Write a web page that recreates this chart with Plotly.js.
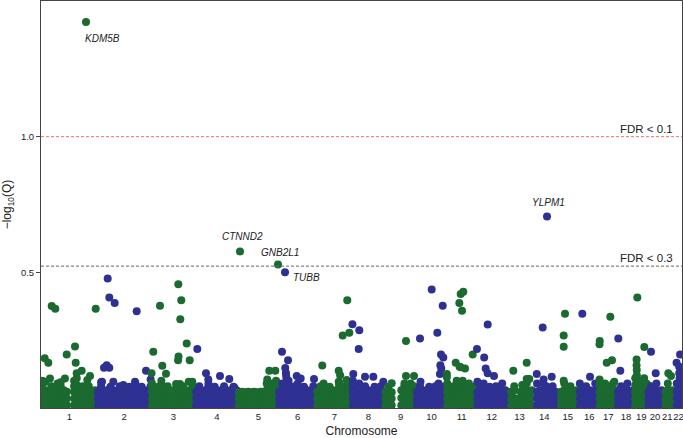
<!DOCTYPE html>
<html><head><meta charset="utf-8">
<script src="https://cdn.plot.ly/plotly-3.0.1.min.js"></script>
<style>html,body{margin:0;padding:0;background:#fff}#chart{width:683px;height:438px}</style>
</head><body><div id="chart"></div>
<script>
// Chromosome labels and lengths (Mb)
const chromosomes = ['1','2','3','4','5','6','7','8','9','10','11','12','13','14','15','16','17','18','19','20','21','22'];
const chromLengths = [249,243,198,191,181,171,159,146,141,136,135,134,115,107,103,90,81,78,59,63,48,51];

// Dense low band of genes: [position Mb, -log10(Q) values...]
const band1 = [[2,.01,.035,.06,.08,.1],[16,.01,.037,.065,.097],[30,.01,.035,.06],[44,.01,.037,.065,.08],[58,.01,.035,.06],[72,.01,.037,.065,.09],[86,.01,.035,.06,.08,.095],[100,.01,.037,.065],[114,.01,.035,.06],[146,.01,.035,.06,.08,.1],[158,.01,.037,.065,.085,.11],[170,.01,.035,.06],[184,.01,.037,.065,.08],[198,.01,.035,.06],[212,.01,.037,.065,.08],[226,.01,.035,.06],[240,.01,.037,.065]];
const band2 = [[4,.01,.035,.06],[18,.01,.037,.065,.08,.095],[32,.01,.035,.06],[46,.01,.037,.065],[60,.01,.035,.06,.078],[74,.01,.037,.065],[88,.01,.035,.06],[102,.01,.037,.065,.08],[116,.01,.035,.06],[130,.01,.037,.065],[144,.01,.035,.06,.078],[158,.01,.037,.065],[172,.01,.035,.06,.08,.09],[186,.01,.037,.065],[200,.01,.035,.06,.078],[214,.01,.037,.065],[228,.01,.035,.06],[240,.01,.037,.065,.08]];
const band3 = [[3,.01,.035,.06,.08,.09],[17,.01,.037,.065],[31,.01,.035,.06,.078],[45,.01,.037,.065,.085,.1],[59,.01,.035,.06],[73,.01,.037,.065,.08],[86,.01,.035,.06],[100,.01,.037,.065],[114,.01,.035,.06,.078],[128,.01,.037,.065],[142,.01,.035,.06,.08],[156,.01,.037,.065],[170,.01,.035,.06],[184,.01,.037,.065,.08],[196,.01,.035,.06]];
const band4 = [[3,.01,.035,.06],[17,.01,.037,.065,.08],[31,.01,.035,.06],[45,.01,.037,.065],[58,.01,.035,.06,.08,.09],[72,.01,.037,.065],[86,.01,.035,.06,.078],[100,.01,.037,.065],[114,.01,.035,.06],[128,.01,.037,.065,.08],[142,.01,.035,.06],[156,.01,.037,.065],[170,.01,.035,.06,.078],[184,.01,.037,.065]];
const band5 = [[3,.01,.035,.058],[17,.01,.035,.06],[31,.01,.035,.058],[45,.01,.035,.06],[58,.01,.035,.058],[72,.01,.035,.06],[86,.01,.035,.058],[100,.01,.035,.06],[114,.01,.035,.06],[128,.01,.037,.065,.09],[142,.01,.035,.06,.078],[156,.01,.037,.065,.09],[170,.01,.035,.06,.08,.1],[179,.01,.037,.065]];
const band6 = [[3,.01,.035,.06],[17,.01,.037,.065,.09],[31,.01,.035,.06,.08],[45,.01,.037,.065,.085,.1],[58,.01,.035,.06],[72,.01,.037,.065,.08],[86,.01,.035,.06,.09],[100,.01,.037,.065],[114,.01,.035,.06,.078],[128,.01,.037,.065],[142,.01,.035,.06],[156,.01,.037,.065,.08],[168,.01,.035,.06]];
const band7 = [[3,.01,.035,.06],[17,.01,.037,.065,.08],[31,.01,.035,.06,.09],[45,.01,.037,.065],[58,.01,.035,.06,.078],[72,.01,.037,.065],[86,.01,.035,.06],[100,.01,.037,.065,.08,.095],[114,.01,.035,.06],[128,.01,.037,.065,.08],[142,.01,.035,.06,.09],[156,.01,.037,.065]];
const band8 = [[3,.01,.035,.06,.08,.1],[17,.01,.037,.065],[31,.01,.035,.06,.09],[45,.01,.037,.065],[58,.01,.035,.06,.08],[72,.01,.037,.065],[86,.01,.035,.06],[100,.01,.037,.065,.078],[114,.01,.035,.06],[128,.01,.037,.065,.08],[142,.01,.035,.06]];
const band9 = [[3,.01,.035,.06],[17,.01,.037,.065,.078],[31,.01,.035,.058],[74,.01,.037,.065],[88,.01,.035,.06,.08,.09],[102,.01,.037,.065],[116,.01,.035,.06,.09],[130,.01,.037,.065,.08],[139,.01,.035,.06]];
const band10 = [[3,.01,.035,.06],[17,.01,.037,.065,.08],[31,.01,.035,.06],[45,.01,.037,.065],[58,.01,.035,.06,.078],[72,.01,.037,.065],[86,.01,.035,.06,.08],[100,.01,.037,.065,.09],[114,.01,.035,.06],[128,.01,.037,.065,.08],[134,.01,.035,.06]];
const band11 = [[3,.01,.035,.06,.08,.09],[17,.01,.037,.065],[31,.01,.035,.06,.08],[45,.01,.037,.065,.085,.1],[58,.01,.035,.06,.08,.095],[72,.01,.037,.065,.085,.1],[86,.01,.035,.06,.08],[100,.01,.037,.065,.09],[114,.01,.035,.06],[128,.01,.037,.065,.08],[133,.01,.035,.06]];
const band12 = [[3,.01,.035,.06],[17,.01,.037,.065,.08],[31,.01,.035,.06,.09],[45,.01,.037,.065],[58,.01,.035,.06,.078],[72,.01,.037,.065],[86,.01,.035,.06,.08],[100,.01,.037,.065],[114,.01,.035,.06,.09],[128,.01,.037,.065],[132,.01,.035,.06]];
const band13 = [[20,.01,.035,.06],[34,.01,.037,.065,.08],[48,.01,.033],[62,.01,.035,.06],[76,.01,.035,.06,.078],[90,.01,.037,.065,.09],[104,.01,.035,.06],[113,.01,.037,.065]];
const band14 = [[21,.01,.035,.06,.09],[35,.01,.037,.065],[49,.01,.035,.06,.09],[63,.01,.037,.065,.08],[77,.01,.035,.06],[91,.01,.037,.065,.08],[105,.01,.035,.06]];
const band15 = [[22,.01,.035,.06],[36,.01,.037,.065,.09],[50,.01,.035,.06],[64,.01,.037,.065,.08],[78,.01,.035,.06],[92,.01,.037,.065],[101,.01,.035,.06]];
const band16 = [[3,.01,.035,.06,.09],[17,.01,.037,.065],[31,.01,.035,.06,.08],[48,.01,.037,.065],[58,.01,.035,.06],[72,.01,.037,.065,.09],[86,.01,.035,.06]];
const band17 = [[2,.01,.035,.06,.085],[14,.01,.037,.065],[26,.01,.035,.06,.09],[38,.01,.037,.065,.08],[50,.01,.035,.06],[62,.01,.037,.065,.09],[74,.01,.035,.06],[80,.01,.037,.065]];
const band18 = [[3,.01,.035,.06],[17,.01,.037,.065,.08],[31,.01,.035,.06],[45,.01,.037,.065,.09],[58,.01,.035,.06],[72,.01,.037,.065],[77,.01,.035,.06]];
const band19 = [[2,.01,.035,.06,.085,.11],[12,.01,.037,.065,.09],[22,.01,.035,.06,.085],[32,.01,.037,.065,.09,.1],[42,.01,.035,.06,.085,.11],[52,.01,.037,.065,.09],[57,.01,.035,.06,.085]];
const band20 = [[2,.01,.035,.06],[14,.01,.037,.065,.08],[26,.01,.035,.06],[38,.01,.037,.065,.09],[50,.01,.035,.06],[61,.01,.037,.065]];
const band21 = [[16,.01,.035,.06],[26,.01,.037,.065,.09],[36,.01,.035,.06],[46,.01,.037,.065]];
const band22 = [[18,.01,.035,.06,.09],[28,.01,.037,.065,.08],[38,.01,.035,.06,.09],[48,.01,.037,.065]];
const bands = [band1,band2,band3,band4,band5,band6,band7,band8,band9,band10,band11,band12,band13,band14,band15,band16,band17,band18,band19,band20,band21,band22];

// Scattered higher genes (chromosome, position Mb, -log10 Q)
const hiChr = [1,1,1,1,1,1,1,1,1,1,1,1,1,1,1,
  2,2,2,2,2,2,2,2,2,2,2,2,2,
  3,3,3,3,3,3,3,3,3,3,3,3,3,3,3,3,
  4,4,4,4,4,4,
  5,5,5,
  6,6,6,6,6,6,6,6,6,6,
  7,7,7,7,7,7,7,7,
  8,8,8,8,8,8,8,
  9,9,9,9,
  10,10,10,10,10,10,10,10,10,10,
  11,11,11,11,11,11,11,11,11,11,11,
  12,12,12,12,12,12,12,
  13,13,13,13,13,
  14,14,14,14,
  15,15,15,15,
  16,16,
  17,17,17,17,17,17,17,17,
  18,18,
  19,19,19,19,19,19,
  20,20,
  21,21,
  22,22,22,22,22,22,22];
const hiPos = [14.3,30.5,45.7,61.8,112.9,150.1,153.2,157.7,180.1,205.2,217.3,242.8,14,38,105,
  47.6,54.8,78.9,177.5,31,54.8,43.1,22,72.7,117.5,169.9,219.2,240,
  1,8.9,38.9,49.2,65.8,120.9,134.3,129.9,158.5,120,122,172,167.5,183.6,111,128,
  8,47,57.3,109.7,151.4,173.8,
  139.6,166.5,130.6,
  15.5,42.4,81.4,99.3,158.9,30,33,36,31,34,
  25,98.5,98.5,137,116.4,146,134.4,105,
  1,31.8,29.1,4.9,57.4,94.6,139.4,
  95,95,131,31,
  16.8,69.2,118.5,94.3,110.9,121.2,108,112,106,19,
  1,1,63,74.8,56.9,69,40.7,63,116.9,82.4,58,
  49.1,1,33.3,40,49,77.3,3,
  29.8,89.8,89.8,101.5,70,
  46.5,20,50.5,86.8,
  39.4,33.6,33.6,33.6,
  14,48.5,
  2,1,49.4,33.3,57,67.3,1,2,
  4.2,13.2,
  11.4,8,8,9,9,42.7,
  13.7,34.8,
  28.2,40.3,
  33,17.3,29,29,31,24,38];
const hiVal = [.183,.167,.376,.366,.197,.227,.167,.128,.137,.103,.118,.366,.097,.109,.109,
  .477,.407,.387,.357,.148,.148,.158,.097,.097,.085,.097,.137,.105,
  .128,.207,.377,.156,.126,.456,.397,.327,.238,.176,.19,.176,.097,.097,.088,.088,
  .217,.128,.105,.118,.107,.076,
  .137,.137,.105,
  .207,.176,.118,.109,.107,.147,.13,.11,.09,.12,
  .157,.137,.097,.397,.267,.277,.103,.121,
  .309,.287,.217,.125,.115,.115,.097,
  .247,.118,.118,.091,
  .256,.437,.377,.277,.197,.186,.158,.146,.125,.097,
  .125,.113,.42,.428,.387,.358,.167,.15,.197,.146,.152,
  .308,.217,.186,.146,.128,.118,.097,
  .137,.167,.107,.107,.085,
  .297,.125,.105,.115,
  .347,.267,.226,.1,
  .347,.115,
  .247,.235,.336,.167,.176,.097,.105,.09,
  .256,.137,
  .407,.179,.158,.14,.121,.225,
  .207,.128,
  .128,.118,
  .197,.167,.152,.128,.11,.09,.1];

// Labelled genes
const geneName = ['KDM5B','CTNND2','GNB2L1','TUBB','YLPM1'];
const geneChr = [1,5,5,6,14];
const genePos = [199.4,8.3,178.6,29,65.8];
const geneVal = [1.423,.577,.529,.5,.706];

// FDR thresholds
const fdrLevels = [0.1, 0.3];
const fdrLabels = ['FDR < 0.1','FDR < 0.3'];

// ---- build ----
const offsets = [];
let acc = 0;
chromLengths.forEach(L => { offsets.push(acc); acc += L; });
const centers = chromLengths.map((L,i) => offsets[i] + L/2);
const GREEN = '#1b6a30', BLUE = '#2f3192';
const colorOf = c => (c % 2 === 1 ? GREEN : BLUE);

const X = [], Y = [], C = [];
for (let c = 1; c <= 22; c++) {
  bands[c-1].forEach(e => { for (let k = 1; k < e.length; k++) { X.push(offsets[c-1] + e[0]); Y.push(e[k]); C.push(colorOf(c)); } });
  hiChr.forEach((hc,i) => { if (hc === c) { X.push(offsets[c-1] + hiPos[i]); Y.push(hiVal[i]); C.push(colorOf(c)); } });
  geneChr.forEach((gc,i) => { if (gc === c) { X.push(offsets[c-1] + genePos[i]); Y.push(geneVal[i]); C.push(colorOf(c)); } });
}

const trace = { type:'scatter', mode:'markers', x:X, y:Y, hoverinfo:'skip',
  marker:{ size:8, color:C, line:{width:0} } };

const FONT = 'Liberation Sans, Arial, Helvetica, sans-serif';
// label placement (pixel offsets)
const labelStyle = [
  {xanchor:'left', yanchor:'middle', xshift:-3, yshift:-17},
  {xanchor:'center', yanchor:'middle', xshift:3, yshift:15},
  {xanchor:'center', yanchor:'middle', xshift:2, yshift:12},
  {xanchor:'left', yanchor:'middle', xshift:6, yshift:-5},
  {xanchor:'center', yanchor:'middle', xshift:1, yshift:14}
];
const annotations = geneName.map((g,i) => Object.assign({
  x: offsets[geneChr[i]-1] + genePos[i], y: geneVal[i], xref:'x', yref:'y',
  text: '<i>' + g + '</i>', showarrow:false,
  font:{family:FONT, size:10, color:'#222'}
}, labelStyle[i]));
fdrLevels.forEach((q,i) => annotations.push({
  x: 0.989, y: -Math.log10(q), xref:'paper', yref:'y', xanchor:'right', yanchor:'bottom',
  yshift: 0, text: fdrLabels[i], showarrow:false, font:{family:FONT, size:11.5, color:'#222'}
}));
const shapes = fdrLevels.map((q,i) => ({
  type:'line', xref:'paper', x0:0, x1:1, yref:'y', y0:-Math.log10(q), y1:-Math.log10(q),
  line:{ color: i === 0 ? '#f07070' : '#666', width:1, dash:'3px,2px' }
}));

const layout = {
  width:683, height:438, margin:{l:41, r:1, t:1, b:30},
  paper_bgcolor:'#fff', plot_bgcolor:'#fff', showlegend:false,
  font:{family:FONT, size:9, color:'#222'},
  xaxis:{ range:[-2.2, 2869.6], tickvals:centers, ticktext:chromosomes, ticks:'', tickangle:0,
    ticklabeloverflow:'allow',
    showgrid:false, zeroline:false, showline:true, mirror:true, linecolor:'#444', linewidth:1,
    tickfont:{family:FONT, size:9.5, color:'#222'},
    title:{text:'Chromosome', font:{family:FONT, size:12, color:'#222'}, standoff:7} },
  yaxis:{ range:[0, 1.5], tickvals:[0.5, 1.0], ticktext:['0.5','1.0'], ticks:'outside', ticklen:4,
    tickcolor:'#444', showgrid:false, zeroline:false, showline:true, mirror:true, linecolor:'#444', linewidth:1,
    tickfont:{family:FONT, size:9.5, color:'#222'},
    title:{text:'\u2212log<sub>10</sub>(Q)', font:{family:FONT, size:12, color:'#222'}, standoff:6} },
  shapes: shapes, annotations: annotations
};
Plotly.newPlot('chart', [trace], layout, {staticPlot:true, displayModeBar:false});
</script></body></html>
